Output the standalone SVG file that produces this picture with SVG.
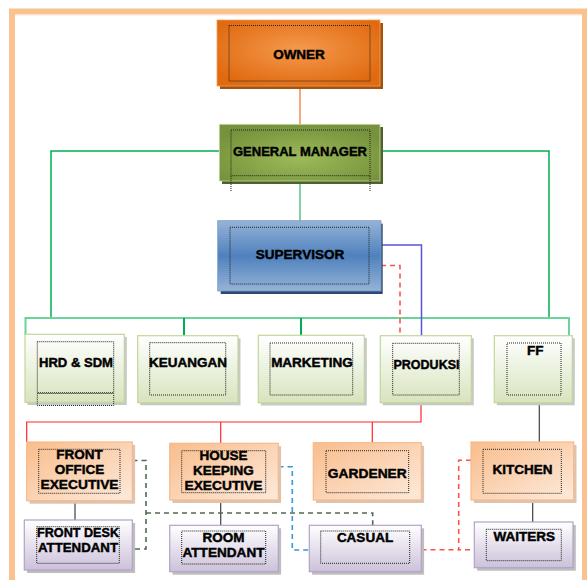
<svg xmlns="http://www.w3.org/2000/svg" width="587" height="580" viewBox="0 0 587 580">
<defs>
<radialGradient id="gOwner" cx="0.5" cy="0.45" r="0.6"><stop offset="0" stop-color="#F59A4E"/><stop offset="1" stop-color="#E06A10"/></radialGradient>
<radialGradient id="gGM" cx="0.5" cy="0.6" r="0.6"><stop offset="0" stop-color="#9DBB5A"/><stop offset="1" stop-color="#76923C"/></radialGradient>
<linearGradient id="gSup" x1="0" y1="0" x2="0" y2="1"><stop offset="0" stop-color="#95B3D7"/><stop offset="0.5" stop-color="#4F81BD"/><stop offset="1" stop-color="#95B3D7"/></linearGradient>
<linearGradient id="gDept" x1="0" y1="0" x2="0" y2="1"><stop offset="0" stop-color="#FFFFFF"/><stop offset="1" stop-color="#D7E4BD"/></linearGradient>
<linearGradient id="gOr" x1="0" y1="0" x2="1" y2="1"><stop offset="0" stop-color="#F9BD8C"/><stop offset="1" stop-color="#FDEADB"/></linearGradient>
<linearGradient id="gPu" x1="0" y1="0" x2="0" y2="1"><stop offset="0" stop-color="#FFFFFF"/><stop offset="1" stop-color="#CCC1DA"/></linearGradient>
</defs>
<style>
text{font-family:"Liberation Sans",Arial,sans-serif;font-weight:bold;font-size:13.5px;fill:#000;stroke:#000;stroke-width:0.45;text-anchor:middle;dominant-baseline:central}
.in{fill:none;stroke:#222;stroke-width:1;stroke-dasharray:1,1}
.shL{fill:#C8C8C8}
.dept{fill:url(#gDept);stroke:#C3D69B;stroke-width:1.2}
.or{fill:url(#gOr);stroke:#F9B98A;stroke-width:1.2}
.pu{fill:url(#gPu);stroke:#B3A2C7;stroke-width:1.2}
.c{fill:none}
</style>
<rect x="12" y="11.5" width="573" height="590" fill="#FFFFFF" stroke="#FBC291" stroke-width="6"/>
<line x1="15" y1="15" x2="582" y2="15" stroke="#FCE4D2" stroke-width="1"/>

<g id="connectors" class="c">
<line x1="300" y1="89" x2="300" y2="124" stroke="#F8A878" stroke-width="2"/>
<line x1="300" y1="181" x2="300" y2="221" stroke="#7ED4A0" stroke-width="2"/>
<polyline points="219,151 51,151 51,318" stroke="#00B050" stroke-width="1.5"/>
<polyline points="380,151 549,151 549,318" stroke="#00B050" stroke-width="1.5"/>
<polyline points="25.5,335 25.5,318 569,318 569,336" stroke="#6CD49A" stroke-width="2"/>
<line x1="184" y1="318" x2="184" y2="336" stroke="#00B050" stroke-width="2"/>
<line x1="301" y1="318" x2="301" y2="336" stroke="#00B050" stroke-width="2"/>
<polyline points="381,245 421.5,245 421.5,336" stroke="#5555DD" stroke-width="1.5"/>
<polyline points="381,265.5 400,265.5 400,336" stroke="#FF5050" stroke-width="1.6" stroke-dasharray="5,4"/>
<polyline points="421,403 421,422 26.7,422 26.7,442" stroke="#FF2828" stroke-width="1.2"/>
<line x1="220.7" y1="422" x2="220.7" y2="443" stroke="#FF2828" stroke-width="1.2"/>
<line x1="372.3" y1="422" x2="372.3" y2="443" stroke="#FF2828" stroke-width="1.2"/>
<line x1="75" y1="500.7" x2="75" y2="520" stroke="#404040" stroke-width="1.2"/>
<line x1="220.7" y1="500" x2="220.7" y2="525" stroke="#404040" stroke-width="1.2"/>
<line x1="539.3" y1="403" x2="539.3" y2="442" stroke="#404040" stroke-width="1.2"/>
<line x1="532.7" y1="500" x2="532.7" y2="522" stroke="#404040" stroke-width="1.2"/>
<polyline points="132.5,460.5 146,460.5 146,549 132.5,549" stroke="#4E6B52" stroke-width="1.6" stroke-dasharray="5,4"/>
<polyline points="146,513 372.7,513 372.7,525" stroke="#4E6B52" stroke-width="1.6" stroke-dasharray="5,4"/>
<polyline points="278.5,466.7 292.3,466.7 292.3,550 309.3,550" stroke="#3399DD" stroke-width="1.6" stroke-dasharray="5,4"/>
<polyline points="471,460.3 458.7,460.3 458.7,549.7 474,549.7" stroke="#FF5050" stroke-width="1.6" stroke-dasharray="5,4"/>
<line x1="421.5" y1="549.7" x2="458.7" y2="549.7" stroke="#FF5050" stroke-width="1.6" stroke-dasharray="5,4"/>
</g>

<g id="owner">
<rect x="220" y="23" width="163" height="66" fill="#A5520F"/>
<rect x="217" y="20" width="163" height="66" fill="url(#gOwner)" stroke="#F0A060" stroke-width="0.8"/>
<rect x="229" y="25.5" width="141" height="55.5" class="in"/>
<text x="299" y="54">OWNER</text>
</g>

<g id="general-manager">
<rect x="222" y="127" width="161" height="57" fill="#4F6228"/>
<rect x="219.3" y="124.3" width="160.7" height="56.7" fill="url(#gGM)" stroke="#C9D9A8" stroke-width="0.8"/>
<rect x="231" y="130" width="139" height="45.7" class="in"/>
<line x1="231" y1="176" x2="231" y2="191" class="in"/>
<line x1="370" y1="176" x2="370" y2="191" class="in"/>
<text x="300" y="151" textLength="134" lengthAdjust="spacingAndGlyphs">GENERAL MANAGER</text>
</g>

<g id="supervisor">
<rect x="220.7" y="223.7" width="162" height="70.3" fill="#2B4A73"/>
<rect x="217.7" y="220.7" width="163.3" height="70.3" fill="url(#gSup)" stroke="#7A9CC8" stroke-width="0.8"/>
<rect x="230" y="227.3" width="139" height="56.7" class="in"/>
<text x="300" y="254.5">SUPERVISOR</text>
</g>

<g id="hrd-sdm">
<rect x="27.5" y="337" width="99.3" height="68" class="shL"/>
<rect x="25" y="334.3" width="99.3" height="68" class="dept"/>
<rect x="37.3" y="341.7" width="76.4" height="51" class="in"/>
<rect x="37.3" y="393.5" width="76.4" height="12" class="in"/>
<text x="76" y="362.3" textLength="74" lengthAdjust="spacingAndGlyphs">HRD &amp; SDM</text>
</g>

<g id="keuangan">
<rect x="140.2" y="338.3" width="100.3" height="67" class="shL"/>
<rect x="137.7" y="335.7" width="100.3" height="67" class="dept"/>
<rect x="149.7" y="342.7" width="76" height="52.3" class="in"/>
<text x="188" y="362.7">KEUANGAN</text>
</g>

<g id="marketing">
<rect x="260.8" y="338" width="106" height="67.5" class="shL"/>
<rect x="258.3" y="335.3" width="106" height="67.5" class="dept"/>
<rect x="270" y="343" width="82.7" height="52" class="in"/>
<text x="312" y="362.7">MARKETING</text>
</g>

<g id="produksi">
<rect x="382.8" y="338.3" width="91" height="67" class="shL"/>
<rect x="380.3" y="335.7" width="91" height="67" class="dept"/>
<rect x="392.7" y="343.3" width="66.6" height="51.7" class="in"/>
<text x="426.5" y="364.3" textLength="66" lengthAdjust="spacingAndGlyphs">PRODUKSI</text>
</g>

<g id="ff">
<rect x="496.8" y="338.3" width="78" height="67" class="shL"/>
<rect x="494.3" y="335.7" width="78" height="67" class="dept"/>
<rect x="507" y="343" width="54" height="52" class="in"/>
<text x="535.3" y="350">FF</text>
</g>

<g id="front-office-executive">
<rect x="29.5" y="445" width="105.6" height="58.7" fill="#DCC4B0"/>
<rect x="26.7" y="442" width="105.6" height="58.7" class="or"/>
<rect x="38.7" y="449.3" width="81.3" height="44" class="in"/>
<text x="79.5" y="454">FRONT</text>
<text x="79.5" y="469.3">OFFICE</text>
<text x="79.5" y="484.3" textLength="78" lengthAdjust="spacingAndGlyphs">EXECUTIVE</text>
</g>

<g id="house-keeping-executive">
<rect x="172.5" y="446.3" width="108.6" height="56.7" fill="#DCC4B0"/>
<rect x="169.7" y="443.3" width="108.6" height="56.7" class="or"/>
<rect x="181.7" y="450.7" width="84" height="42" class="in"/>
<text x="223.5" y="455.7">HOUSE</text>
<text x="223.5" y="470.7">KEEPING</text>
<text x="223.5" y="485.7" textLength="78" lengthAdjust="spacingAndGlyphs">EXECUTIVE</text>
</g>

<g id="gardener">
<rect x="316.1" y="445.7" width="108" height="57.3" fill="#DCC4B0"/>
<rect x="313.3" y="442.7" width="108" height="57.3" class="or"/>
<rect x="326" y="450.7" width="82.7" height="42" class="in"/>
<text x="367.3" y="473.3" textLength="79" lengthAdjust="spacingAndGlyphs">GARDENER</text>
</g>

<g id="kitchen">
<rect x="473.8" y="445" width="102.7" height="58" fill="#DCC4B0"/>
<rect x="471" y="442" width="102.7" height="58" class="or"/>
<rect x="483" y="449.3" width="78.3" height="44" class="in"/>
<text x="522.5" y="469.3">KITCHEN</text>
</g>

<g id="front-desk-attendant">
<rect x="27.1" y="523" width="108" height="50" fill="#BEBEBE"/>
<rect x="24.3" y="520" width="108" height="50" class="pu"/>
<rect x="36.7" y="526.7" width="82.6" height="36.6" class="in"/>
<text x="78" y="532.7" textLength="82" lengthAdjust="spacingAndGlyphs">FRONT DESK</text>
<text x="78" y="547.3" textLength="80" lengthAdjust="spacingAndGlyphs">ATTENDANT</text>
</g>

<g id="room-attendant">
<rect x="172.5" y="528.3" width="108.6" height="46.4" fill="#BEBEBE"/>
<rect x="169.7" y="525.3" width="108.6" height="46.4" class="pu"/>
<rect x="181.7" y="531" width="84" height="33" class="in"/>
<text x="223.5" y="537.7">ROOM</text>
<text x="223.5" y="552.7" textLength="82" lengthAdjust="spacingAndGlyphs">ATTENDANT</text>
</g>

<g id="casual">
<rect x="312.1" y="528.3" width="112" height="46.4" fill="#BEBEBE"/>
<rect x="309.3" y="525.3" width="112" height="46.4" class="pu"/>
<rect x="320.7" y="531" width="89" height="32.3" class="in"/>
<text x="365" y="537.7">CASUAL</text>
</g>

<g id="waiters">
<rect x="477.1" y="525" width="98.7" height="45.7" fill="#BEBEBE"/>
<rect x="474.3" y="522" width="98.7" height="45.7" class="pu"/>
<rect x="486.3" y="529.3" width="75" height="31.4" class="in"/>
<text x="524.3" y="536">WAITERS</text>
</g>
</svg>
